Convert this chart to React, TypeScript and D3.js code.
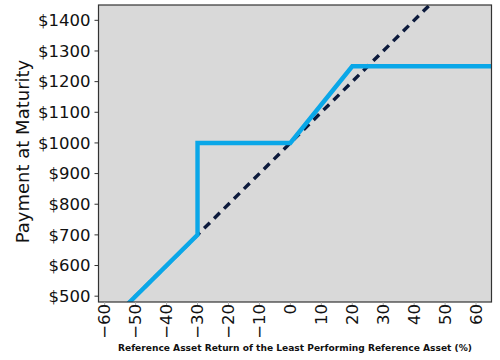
import React from "react";
import * as d3 from "d3";

const xTicks = [-60, -50, -40, -30, -20, -10, 0, 10, 20, 30, 40, 50, 60];
const yTicks = [500, 600, 700, 800, 900, 1000, 1100, 1200, 1300, 1400];
const payoffReturns = [-60, -30, -30, 0, 20, 65];
const payoffValues = [400, 700, 1000, 1000, 1250, 1250];
const refReturns = [-60, 65];
const refValues = [400, 1650];

const W = 500, H = 360;
const L = 98.5, R = 491.5, T = 5, B = 302;

export default function App() {
  const x = d3.scaleLinear().domain([-62, 65]).range([L, R]);
  const y = d3.scaleLinear().domain([481, 1450]).range([B, T]);
  const line = d3.line<[number, number]>().x(d => x(d[0])).y(d => y(d[1]));
  const payoff = line(payoffReturns.map((r, i) => [r, payoffValues[i]] as [number, number]));
  const ref = line(refReturns.map((r, i) => [r, refValues[i]] as [number, number]));
  const font = "'DejaVu Sans', sans-serif";
  return (
    <svg width={W} height={H} style={{ position: "absolute", left: 0, top: 0, background: "#fff" }}>
      <defs>
        <clipPath id="clip">
          <rect x={L} y={T} width={R - L} height={B - T} />
        </clipPath>
      </defs>
      <rect x={L} y={T} width={R - L} height={B - T} fill="#d9d9d9" />
      <g clipPath="url(#clip)">
        <path d={ref || ""} fill="none" stroke="#0c1a3c" strokeWidth={3.4} strokeDasharray="8,6" />
        <path d={payoff || ""} fill="none" stroke="#0aa7e8" strokeWidth={4.4} strokeLinejoin="miter" />
      </g>
      <rect x={L} y={T} width={R - L} height={B - T} fill="none" stroke="#333" strokeWidth={1.2} />
      {yTicks.map(t => (
        <g key={t}>
          <line x1={L - 4} x2={L} y1={y(t)} y2={y(t)} stroke="#333" />
          <text x={L - 8} y={y(t)} dy="0.35em" textAnchor="end" fontSize={16.5} fontFamily={font} fill="#111">
            ${t}
          </text>
        </g>
      ))}
      {xTicks.map(t => (
        <g key={t}>
          <line x1={x(t)} x2={x(t)} y1={B} y2={B + 3} stroke="#aaa" />
          <text
            transform={`translate(${x(t)},${B + 2}) rotate(-90)`}
            dy="0.35em"
            textAnchor="end"
            fontSize={16.5}
            fontFamily={font}
            fill="#111"
          >
            {t < 0 ? `\u2212${-t}` : `${t}`}
          </text>
        </g>
      ))}
      <text
        transform={`translate(29,${(T + B) / 2 - 2}) rotate(-90)`}
        textAnchor="middle"
        fontSize={18}
        fontFamily={font}
        fill="#111"
      >
        Payment at Maturity
      </text>
      <text
        x={(L + R) / 2}
        y={351}
        textAnchor="middle"
        fontSize={9.5}
        fontWeight="bold"
        fontFamily="'DejaVu Sans Condensed', 'DejaVu Sans', sans-serif"
        fill="#111"
        textLength={354}
        lengthAdjust="spacingAndGlyphs"
      >
        Reference Asset Return of the Least Performing Reference Asset (%)
      </text>
    </svg>
  );
}
